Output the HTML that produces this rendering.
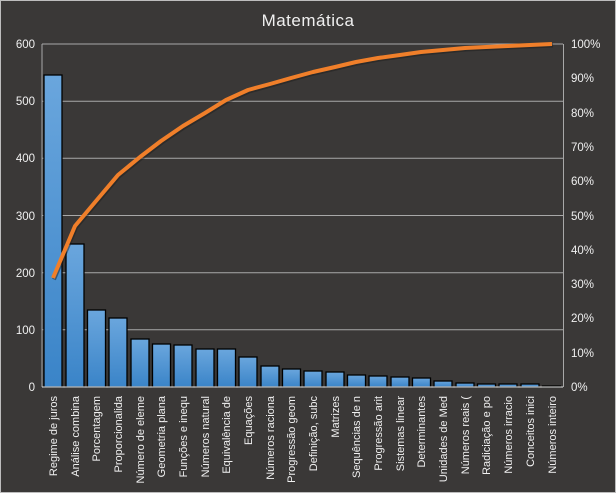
<!DOCTYPE html>
<html><head><meta charset="utf-8"><style>
html,body{margin:0;padding:0;background:#3a3837;}
svg{display:block;}
text{font-family:"Liberation Sans",sans-serif;fill:#f0f0f0;}
</style></head><body>
<svg width="616" height="493" viewBox="0 0 616 493" xmlns="http://www.w3.org/2000/svg">
<rect x="0.5" y="0.5" width="615" height="492" fill="#3a3837" stroke="#bdbdbd" stroke-width="1"/>
<text x="308" y="26" font-size="17" text-anchor="middle" letter-spacing="0.5">Matemática</text>
<g stroke="#a8a8a8" stroke-width="1">
<line x1="42" y1="44" x2="563" y2="44"/>
<line x1="42" y1="101.2" x2="563" y2="101.2"/>
<line x1="42" y1="158.3" x2="563" y2="158.3"/>
<line x1="42" y1="215.5" x2="563" y2="215.5"/>
<line x1="42" y1="272.7" x2="563" y2="272.7"/>
<line x1="42" y1="329.8" x2="563" y2="329.8"/>
<line x1="42" y1="44" x2="42" y2="387"/>
<line x1="563.5" y1="44" x2="563.5" y2="387"/>
</g>
<g font-size="11.5" text-anchor="end">
<text x="35" y="48">600</text><text x="35" y="105">500</text><text x="35" y="162">400</text>
<text x="35" y="220">300</text><text x="35" y="277">200</text><text x="35" y="334">100</text><text x="35" y="391">0</text>
</g>
<g font-size="11.5">
<text x="571" y="48">100%</text><text x="571" y="82">90%</text><text x="571" y="117">80%</text>
<text x="571" y="151">70%</text><text x="571" y="185">60%</text><text x="571" y="220">50%</text>
<text x="571" y="254">40%</text><text x="571" y="288">30%</text><text x="571" y="322">20%</text>
<text x="571" y="357">10%</text><text x="571" y="391">0%</text>
</g>
<defs><linearGradient id="g" x1="0" y1="0" x2="0" y2="1"><stop offset="0" stop-color="#6aa6dd"/><stop offset="1" stop-color="#3a84c8"/></linearGradient></defs>
<g fill="url(#g)" stroke="#000" stroke-width="1.3">
<rect x="44" y="75" width="18" height="312"/>
<rect x="66" y="244" width="18" height="143"/>
<rect x="87.5" y="310" width="18" height="77"/>
<rect x="109" y="318" width="18" height="69"/>
<rect x="131" y="339" width="18" height="48"/>
<rect x="152.5" y="344" width="18" height="43"/>
<rect x="174" y="345" width="18" height="42"/>
<rect x="196" y="349" width="18" height="38"/>
<rect x="217.5" y="349" width="18" height="38"/>
<rect x="239" y="357" width="18" height="30"/>
<rect x="261" y="366" width="18" height="21"/>
<rect x="282.5" y="369" width="18" height="18"/>
<rect x="304" y="371" width="18" height="16"/>
<rect x="326" y="372" width="18" height="15"/>
<rect x="347.5" y="375" width="18" height="12"/>
<rect x="369" y="376" width="18" height="11"/>
<rect x="391" y="377" width="18" height="10"/>
<rect x="412.5" y="378" width="18" height="9"/>
<rect x="434" y="381" width="18" height="6"/>
<rect x="456" y="383" width="18" height="4"/>
<rect x="477.5" y="384" width="18" height="3"/>
<rect x="499" y="384" width="18" height="3"/>
<rect x="521" y="384" width="18" height="3"/>
<rect x="542.5" y="386" width="18" height="1"/>
</g>
<line x1="42" y1="387" x2="563" y2="387" stroke="#e8e8e8" stroke-width="1"/>
<polyline fill="none" stroke="#1e1e1e" stroke-opacity="0.5" stroke-width="4" transform="translate(1,1.5)" points="53,278 75,226 96,201 118,175 140,157 161,141 183,126 205,113 226,100 248,90 270,84 291,78 313,72 335,67 356,62 378,58 400,55 421,52 443,50 465,48 486,47 508,46 530,45 552,44"/>
<polyline fill="none" stroke="#f07f2a" stroke-width="4" stroke-linejoin="round" points="53,278 75,226 96,201 118,175 140,157 161,141 183,126 205,113 226,100 248,90 270,84 291,78 313,72 335,67 356,62 378,58 400,55 421,52 443,50 465,48 486,47 508,46 530,45 552,44"/>
<g font-size="11" text-anchor="end">
<text transform="translate(57,396) rotate(-90)">Regime de juros</text>
<text transform="translate(79,396) rotate(-90)">Análise combina</text>
<text transform="translate(100,396) rotate(-90)">Porcentagem</text>
<text transform="translate(122,396) rotate(-90)">Proporcionalida</text>
<text transform="translate(144,396) rotate(-90)">Número de eleme</text>
<text transform="translate(165,396) rotate(-90)">Geometria plana</text>
<text transform="translate(187,396) rotate(-90)">Funções e inequ</text>
<text transform="translate(209,396) rotate(-90)">Números natural</text>
<text transform="translate(230,396) rotate(-90)">Equivalência de</text>
<text transform="translate(252,396) rotate(-90)">Equações</text>
<text transform="translate(274,396) rotate(-90)">Números raciona</text>
<text transform="translate(295,396) rotate(-90)">Progressão geom</text>
<text transform="translate(317,396) rotate(-90)">Definição, subc</text>
<text transform="translate(339,396) rotate(-90)">Matrizes</text>
<text transform="translate(360,396) rotate(-90)">Sequências de n</text>
<text transform="translate(382,396) rotate(-90)">Progressão arit</text>
<text transform="translate(404,396) rotate(-90)">Sistemas linear</text>
<text transform="translate(425,396) rotate(-90)">Determinantes</text>
<text transform="translate(447,396) rotate(-90)">Unidades de Med</text>
<text transform="translate(469,396) rotate(-90)">Números reais (</text>
<text transform="translate(490,396) rotate(-90)">Radiciação e po</text>
<text transform="translate(512,396) rotate(-90)">Números irracio</text>
<text transform="translate(534,396) rotate(-90)">Conceitos inici</text>
<text transform="translate(556,396) rotate(-90)">Números inteiro</text>
</g>
</svg>
</body></html>
